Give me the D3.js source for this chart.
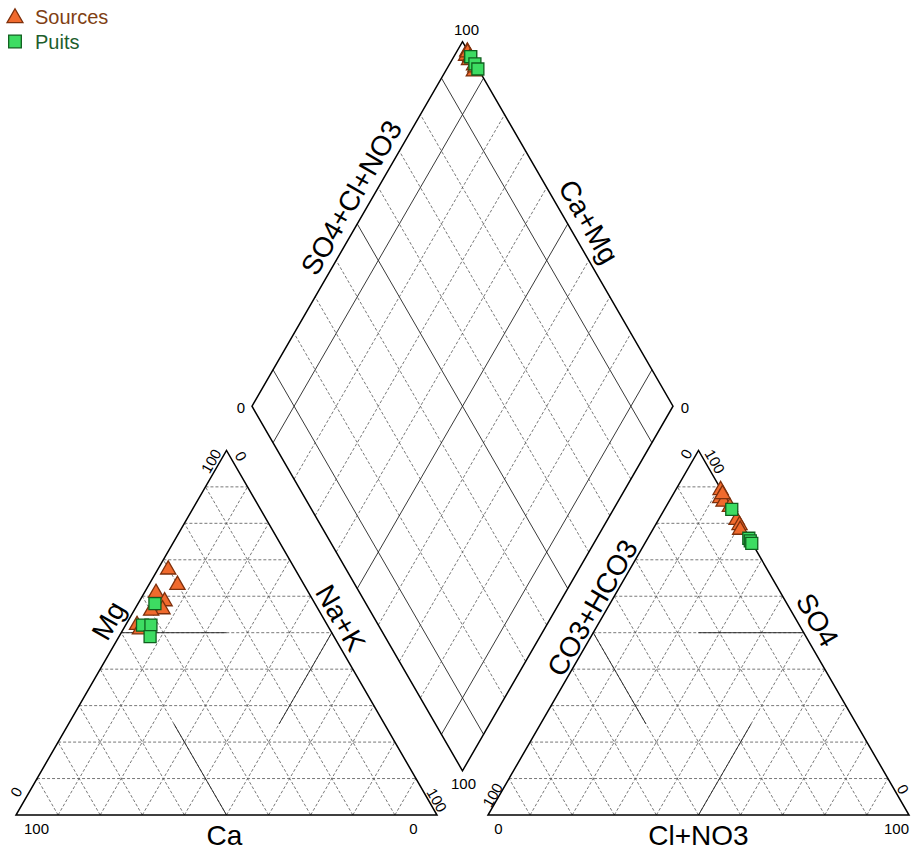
<!DOCTYPE html>
<html>
<head>
<meta charset="utf-8">
<script src="https://cdn.jsdelivr.net/npm/d3@7"></script>
<style>
  body { margin: 0; background: #fff; }
  text { font-family: "Liberation Sans", Arial, sans-serif; }
</style>
</head>
<body>
<div id="chart"></div>
<script>
// Sources (triangles) - cations and anions in % meq
const srcCa   = [30.2, 30.1, 36.3, 35.4, 37.0, 39.9, 45.2, 45.1];
const srcMg   = [67.3, 63.1, 60.9, 58.6, 56.4, 56.0, 52.1, 50.9];
const srcNaK  = [2.5, 6.8, 2.8, 6.0, 6.6, 4.1, 2.7, 4.0];
const srcSO4  = [89.1, 86.9, 85.9, 80.9, 79.5, 78.2, 84.5, 88.0];
const srcCl   = [10.7, 11.7, 13.0, 18.6, 20.0, 20.8, 15.2, 11.7];
const srcHCO3 = [0.2, 1.4, 1.1, 0.5, 0.5, 1.0, 0.3, 0.3];

// Puits (squares)
const wellCa   = [38.0, 43.9, 41.9, 43.7];
const wellMg   = [58.0, 52.1, 52.1, 48.9];
const wellNaK  = [4.0, 4.0, 6.0, 7.4];
const wellSO4  = [83.8, 75.9, 75.2, 74.5];
const wellCl   = [16.0, 24.0, 24.7, 25.4];
const wellHCO3 = [0.2, 0.1, 0.1, 0.1];

const gridTicks = [10, 20, 30, 40, 50, 60, 70, 80, 90];
const seriesNames = ["Sources", "Puits"];

// layout
const width = 915, height = 849;
const side = 421, gap = 51, x0 = 16, baseY = 815;
const s60 = Math.sqrt(3) / 2;

const svg = d3.select("#chart").append("svg")
  .attr("width", width).attr("height", height);

// one scale for percentages along a side
const sc = d3.scaleLinear().domain([0, 100]).range([0, side]);

const leftX = x0;
const rightX = x0 + side + gap;
const dBottom = [x0 + side + gap / 2, baseY - gap * s60];

// ternary point: r = right-corner component, t = top component
function triPt(ox, r, t) {
  return [ox + sc(r) + sc(t) / 2, baseY - sc(t) * s60];
}
// diamond point: c = Ca+Mg, a = SO4+Cl
function diaPt(c, a) {
  return [dBottom[0] + (sc(a) - sc(c)) / 2, dBottom[1] - (sc(a) + sc(c)) * s60];
}

const line = d3.line();
const gGrid = svg.append("g");

function seg(p1, p2, solid) {
  gGrid.append("path")
    .attr("d", line([p1, p2]))
    .attr("fill", "none")
    .attr("stroke", solid ? "#222" : "#555")
    .attr("stroke-width", solid ? 0.9 : 0.8)
    .attr("stroke-dasharray", solid ? null : "3,2");
}

// triangle grids (dashed every 10%)
[leftX, rightX].forEach(ox => {
  gridTicks.forEach(k => {
    seg(triPt(ox, 0, k), triPt(ox, 100 - k, k), false);   // constant top
    seg(triPt(ox, k, 0), triPt(ox, k, 100 - k), false);   // constant right
    seg(triPt(ox, 100 - k, 0), triPt(ox, 0, 100 - k), false); // constant left
  });
});

// facies lines, left triangle (Ca left, Na+K right, Mg top)
seg(triPt(leftX, 0, 50), triPt(leftX, 25, 50), true);
seg(triPt(leftX, 50, 50), triPt(leftX, 50, 25), true);
seg(triPt(leftX, 50, 0), triPt(leftX, 25, 25), true);
// right triangle (CO3+HCO3 left, Cl+NO3 right, SO4 top)
seg(triPt(rightX, 50, 50), triPt(rightX, 25, 50), true);
seg(triPt(rightX, 50, 0), triPt(rightX, 50, 25), true);
seg(triPt(rightX, 0, 50), triPt(rightX, 25, 25), true);

// diamond grid
gridTicks.forEach(k => {
  const solid = (k === 10 || k === 50 || k === 90);
  seg(diaPt(0, k), diaPt(100, k), solid);
  seg(diaPt(k, 0), diaPt(k, 100), solid);
});

// outlines
const outlines = [
  [triPt(leftX, 0, 0), triPt(leftX, 100, 0), triPt(leftX, 0, 100)],
  [triPt(rightX, 0, 0), triPt(rightX, 100, 0), triPt(rightX, 0, 100)],
  [diaPt(0, 0), diaPt(100, 0), diaPt(100, 100), diaPt(0, 100)]
];
svg.append("g").selectAll("path")
  .data(outlines)
  .join("path")
  .attr("d", d => line(d) + "Z")
  .attr("fill", "none")
  .attr("stroke", "#000")
  .attr("stroke-width", 1.5)
  .attr("stroke-linejoin", "miter");

// tick labels
const LB = triPt(leftX, 0, 0), LR = triPt(leftX, 100, 0), LT = triPt(leftX, 0, 100);
const RB = triPt(rightX, 0, 0), RR = triPt(rightX, 100, 0), RT = triPt(rightX, 0, 100);
const DT = diaPt(100, 100), DL = diaPt(100, 0), DR = diaPt(0, 100), DB = diaPt(0, 0);

const tickLabels = [
  { t: "100", p: [LB[0] + 20.5, LB[1] + 13.5], r: 0 },
  { t: "0",   p: [LR[0] - 23.5, LR[1] + 13.5], r: 0 },
  { t: "0",   p: [LB[0] + 0, LB[1] - 23], r: -60 },
  { t: "100", p: [LT[0] - 15.5, LT[1] + 10.6], r: -60 },
  { t: "0",   p: [LT[0] + 14.5, LT[1] + 5.6], r: 60 },
  { t: "100", p: [LR[0] + 0, LR[1] - 15], r: 60 },
  { t: "0",   p: [RB[0] + 10.5, RB[1] + 13.5], r: 0 },
  { t: "100", p: [RR[0] - 12.5, RR[1] + 13.5], r: 0 },
  { t: "100", p: [RB[0] + 4.5, RB[1] - 20], r: -60 },
  { t: "0",   p: [RT[0] - 12.5, RT[1] + 3.6], r: -60 },
  { t: "100", p: [RT[0] + 16.5, RT[1] + 11], r: 60 },
  { t: "0",   p: [RR[0] - 6, RR[1] - 26], r: 60 },
  { t: "100", p: [DT[0] + 4, DT[1] - 12], r: 0 },
  { t: "0",   p: [DL[0] - 11, DL[1] + 1], r: 0 },
  { t: "0",   p: [DR[0] + 12, DR[1] + 1], r: 0 },
  { t: "100", p: [DB[0] + 1, DB[1] + 13], r: 0 }
];
svg.append("g").selectAll("text")
  .data(tickLabels)
  .join("text")
  .attr("transform", d => `translate(${d.p[0]},${d.p[1]}) rotate(${d.r})`)
  .attr("text-anchor", "middle")
  .attr("dominant-baseline", "central")
  .attr("font-size", "15px")
  .attr("fill", "#000")
  .text(d => d.t);

// axis titles placed along edges (fraction along edge, outward offset)
function edgeLabel(p1, p2, frac, off, rot) {
  const dx = p2[0] - p1[0], dy = p2[1] - p1[1];
  const len = Math.hypot(dx, dy);
  let nx = dy / len, ny = -dx / len;   // normal
  return { x: p1[0] + dx * frac + nx * off, y: p1[1] + dy * frac + ny * off, r: rot };
}
const titles = [
  Object.assign({ t: "Mg" }, edgeLabel(LB, LT, 0.51, 17, -60)),
  Object.assign({ t: "Na+K" }, edgeLabel(LT, LR, 0.48, 15, 60)),
  Object.assign({ t: "CO3+HCO3" }, edgeLabel(RB, RT, 0.55, 13, -60)),
  Object.assign({ t: "SO4" }, edgeLabel(RT, RR, 0.49, 18, 60)),
  Object.assign({ t: "SO4+Cl+NO3" }, edgeLabel(DL, DT, 0.547, 18, -60)),
  Object.assign({ t: "Ca+Mg" }, edgeLabel(DT, DR, 0.52, 19, 60)),
  { t: "Ca", x: (LB[0] + LR[0]) / 2 - 2, y: baseY + 20, r: 0 },
  { t: "Cl+NO3", x: (RB[0] + RR[0]) / 2, y: baseY + 20, r: 0 }
];
svg.append("g").selectAll("text")
  .data(titles)
  .join("text")
  .attr("transform", d => `translate(${d.x},${d.y}) rotate(${d.r})`)
  .attr("text-anchor", "middle")
  .attr("dominant-baseline", "central")
  .attr("font-size", "28px")
  .attr("fill", "#000")
  .text(d => d.t);

// build samples
function samples(ca, mg, nak, so4, cl, hco3) {
  return ca.map((_, i) => {
    const cs = ca[i] + mg[i] + nak[i];
    const as = so4[i] + cl[i] + hco3[i];
    return {
      ca: 100 * ca[i] / cs, mg: 100 * mg[i] / cs, nak: 100 * nak[i] / cs,
      so4: 100 * so4[i] / as, cl: 100 * cl[i] / as, hco3: 100 * hco3[i] / as
    };
  });
}
const sources = samples(srcCa, srcMg, srcNaK, srcSO4, srcCl, srcHCO3);
const wells = samples(wellCa, wellMg, wellNaK, wellSO4, wellCl, wellHCO3);

const styles = {
  Sources: { sym: d3.symbolTriangle, size: 100, fill: "#f06a2d", stroke: "#7e300c", text: "#7f3f14" },
  Puits:   { sym: d3.symbolSquare, size: 144, fill: "#3ddc62", stroke: "#0f5f1e", text: "#1d5e2c" }
};

function positions(d) {
  return [
    triPt(leftX, d.nak, d.mg),
    triPt(rightX, d.cl, d.so4),
    diaPt(d.ca + d.mg, d.so4 + d.cl)
  ];
}

[[sources, "Sources"], [wells, "Puits"]].forEach(([data, name]) => {
  const st = styles[name];
  const pts = data.flatMap(positions);
  svg.append("g").selectAll("path")
    .data(pts)
    .join("path")
    .attr("transform", p => `translate(${p[0]},${p[1]})`)
    .attr("d", d3.symbol(st.sym, st.size))
    .attr("fill", st.fill)
    .attr("stroke", st.stroke)
    .attr("stroke-width", 1.3);
});

// legend
const legend = svg.append("g");
seriesNames.forEach((name, i) => {
  const st = styles[name];
  const y = 17 + i * 24.5;
  legend.append("path")
    .attr("transform", `translate(15,${y + (i === 0 ? 1 : 0)})`)
    .attr("d", d3.symbol(st.sym, i === 0 ? 110 : 160))
    .attr("fill", st.fill)
    .attr("stroke", st.stroke)
    .attr("stroke-width", 1.3);
  legend.append("text")
    .attr("x", 35)
    .attr("y", y)
    .attr("dominant-baseline", "central")
    .attr("font-size", "20px")
    .attr("fill", st.text)
    .text(name);
});
</script>
</body>
</html>
